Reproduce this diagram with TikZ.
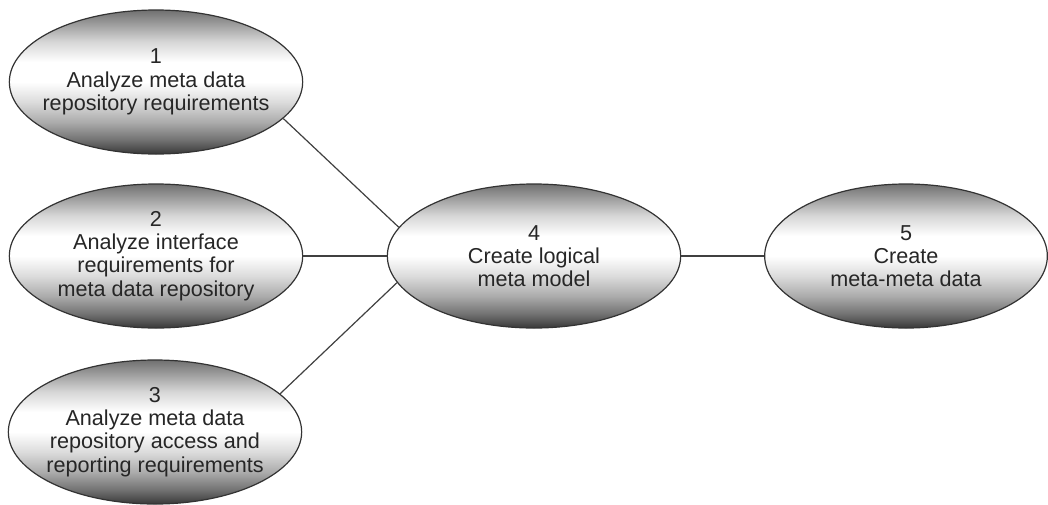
\documentclass[tikz,border=0pt]{standalone}
\usepackage{fontspec}
\setmainfont{Liberation Sans}
\usetikzlibrary{shapes.geometric}
\pgfdeclareverticalshading{ovalshade}{100bp}{color(0bp)=(black!78); color(25bp)=(black!78);
  color(30bp)=(black!55); color(36bp)=(black!33); color(43bp)=(black!14); color(50bp)=(white);
  color(57bp)=(white); color(64bp)=(black!16); color(70bp)=(black!38); color(75bp)=(black!56);
  color(100bp)=(black!56)}

\begin{document}
\begin{tikzpicture}[x=0.75pt,y=-0.75pt,font=\fontsize{16.2}{17.4}\selectfont,
  ov/.style={ellipse,draw=black!80,line width=0.9pt,shading=ovalshade,minimum width=220pt,
    minimum height=108pt,align=center,inner xsep=-12pt,inner ysep=0pt,text=black!85},
  ln/.style={draw=black!75,line width=0.9pt}]
\useasboundingbox (0,0) rectangle (1048,504);
\node[ov] (e1) at (156,82) {1\\Analyze meta data\\repository requirements};
\node[ov] (e2) at (156,256) {2\\Analyze interface\\requirements for\\meta data repository};
\node[ov] (e3) at (155,432) {3\\Analyze meta data\\repository access and\\reporting requirements};
\node[ov] (e4) at (534,256) {4\\Create logical\\meta model};
\node[ov,minimum width=212pt] (e5) at (906,256) {5\\Create\\meta-meta data};
\draw[ln] (e1.-16) -- (e4.168);
\draw[ln] (e2.east) -- (e4.west);
\draw[ln] (e3.17) -- (e4.-169);
\draw[ln] (e4.east) -- (e5.west);
\end{tikzpicture}
\end{document}
